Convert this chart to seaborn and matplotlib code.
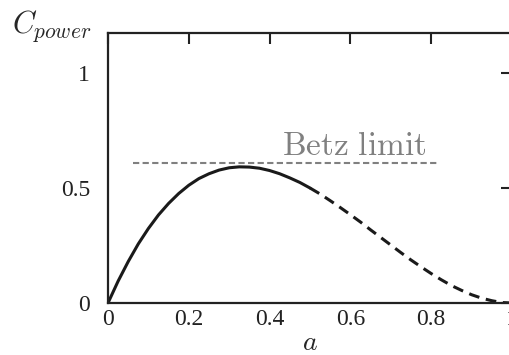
import matplotlib
matplotlib.use("Agg")
import matplotlib.pyplot as plt
import pandas as pd
import seaborn as sns

# values
a_solid = [0, 0.025, 0.05, 0.075, 0.1, 0.125, 0.15, 0.175, 0.2, 0.225, 0.25,
           0.275, 0.3, 0.325, 0.35, 0.375, 0.4, 0.425, 0.45, 0.475, 0.5]
cp_solid = [0, 0.095, 0.18, 0.257, 0.324, 0.383, 0.433, 0.476, 0.512, 0.541, 0.562,
            0.578, 0.588, 0.592, 0.591, 0.586, 0.576, 0.562, 0.544, 0.524, 0.5]
a_dashed = [0.5, 0.525, 0.55, 0.575, 0.6, 0.625, 0.65, 0.675, 0.7, 0.725, 0.75,
            0.775, 0.8, 0.825, 0.85, 0.875, 0.9, 0.925, 0.95, 0.975, 1.0]
cp_dashed = [0.5, 0.474, 0.445, 0.415, 0.384, 0.352, 0.318, 0.285, 0.252, 0.219, 0.187,
             0.157, 0.128, 0.101, 0.076, 0.055, 0.036, 0.021, 0.01, 0.002, 0]
betz_a = [0.062, 0.82]
betz_cp = [0.61, 0.61]

x_ticks = [0, 0.2, 0.4, 0.6, 0.8, 1]
x_tick_labels = ["0", "0.2", "0.4", "0.6", "0.8", "1"]
y_ticks = [0, 0.5, 1]
y_tick_labels = ["0", "0.5", "1"]

sns.set_style("white")
plt.rcParams["mathtext.fontset"] = "cm"
plt.rcParams["font.family"] = ["Liberation Serif", "DejaVu Serif"]

solid_df = pd.DataFrame({"a": a_solid, "cp": cp_solid})
dashed_df = pd.DataFrame({"a": a_dashed, "cp": cp_dashed})
betz_df = pd.DataFrame({"a": betz_a, "cp": betz_cp})

fig = plt.figure(figsize=(5.09, 3.55), dpi=100)
ax = fig.add_axes([108 / 509, 52 / 355, 404 / 509, 270 / 355])

sns.lineplot(data=solid_df, x="a", y="cp", ax=ax, color="#1a1a1a", linewidth=2.2)
sns.lineplot(data=dashed_df, x="a", y="cp", ax=ax, color="#1a1a1a", linewidth=2.2,
             linestyle=(0, (3.5, 2.2)))
sns.lineplot(data=betz_df, x="a", y="cp", ax=ax, color="#808080", linewidth=1.5,
             linestyle=(0, (3, 1.6)))

ax.text(0.61, 0.643, r"$\mathrm{Betz\ limit}$", color="#808080", fontsize=24,
        ha="center", va="baseline")

ax.set_xlim(0, 1)
ax.set_ylim(0, 1.174)
ax.set_xticks(x_ticks)
ax.set_xticklabels(x_tick_labels)
ax.set_yticks(y_ticks)
ax.set_yticklabels(y_tick_labels)
ax.tick_params(direction="in", length=8, width=1.5, labelsize=17, colors="#222222",
               top=True, right=True)
ax.tick_params(axis="y", pad=13)
ax.tick_params(axis="x", pad=4)
for spine in ax.spines.values():
    spine.set_linewidth(1.6)
    spine.set_color("#222222")

ax.set_xlabel(r"$a$", fontsize=20, labelpad=1)
ax.set_ylabel("")
fig.text(12 / 509, 1 - 33 / 355, r"$C_{power}$", fontsize=22, ha="left",
         va="baseline")

fig.savefig("out.png", dpi=100)
